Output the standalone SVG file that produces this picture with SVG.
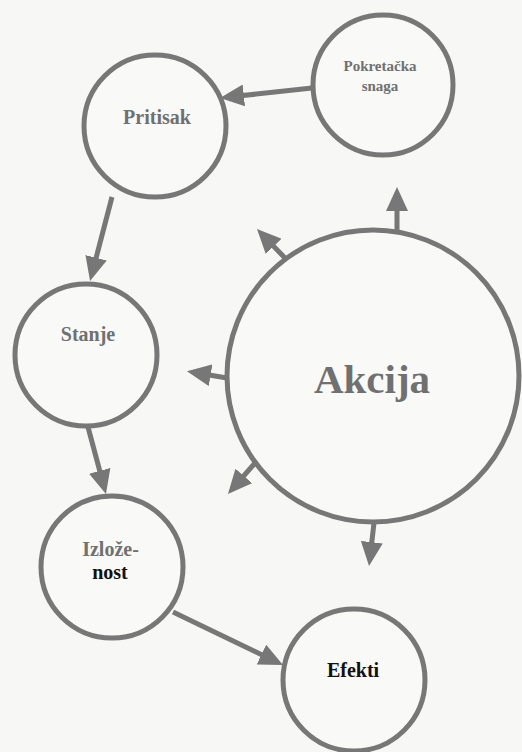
<svg xmlns="http://www.w3.org/2000/svg" width="522" height="752" viewBox="0 0 522 752">
<style>
.node{fill:#f9f9f8;stroke:#777;stroke-width:5}
.lbl{font-family:'Liberation Serif','DejaVu Serif',serif;font-weight:bold;fill:#707070;text-anchor:middle}
.dark{fill:#111}
.conn{stroke:#777;stroke-width:5;fill:none;marker-end:url(#ah)}
</style>
<defs>
<marker id="ah" viewBox="0 0 24 22" markerWidth="24" markerHeight="22" markerUnits="userSpaceOnUse" refX="6" refY="11" orient="auto">
<path d="M0,0 L24,11 L0,22 z" fill="#777"/>
</marker>
</defs>
<rect width="522" height="752" fill="#f7f7f6"/>
<g id="connectors">
<line class="conn" x1="312" y1="88" x2="237.9" y2="96.1"/>
<line class="conn" x1="112" y1="197" x2="94.6" y2="263.6"/>
<line class="conn" x1="88" y1="427" x2="101.3" y2="476.6"/>
<line class="conn" x1="173" y1="612" x2="266.8" y2="657.2"/>
<line class="conn" x1="397" y1="231" x2="397" y2="205"/>
<line class="conn" x1="285" y1="258" x2="269.5" y2="242"/>
<line class="conn" x1="227" y1="378" x2="204.7" y2="374.2"/>
<line class="conn" x1="255" y1="463" x2="239.8" y2="480.4"/>
<line class="conn" x1="374" y1="523" x2="371.1" y2="548.1"/>
</g>
<g id="pokretacka">
<circle class="node" cx="383" cy="85" r="70"/>
<text class="lbl" font-family="Liberation Serif, serif" x="380" y="71" font-size="15">Pokretačka</text>
<text class="lbl" font-family="Liberation Serif, serif" x="380" y="91" font-size="15">snaga</text>
</g>
<g id="pritisak">
<circle class="node" cx="155" cy="126" r="71"/>
<text class="lbl" font-family="Liberation Serif, serif" x="157" y="124" font-size="20">Pritisak</text>
</g>
<g id="stanje">
<circle class="node" cx="86" cy="355" r="71"/>
<text class="lbl" font-family="Liberation Serif, serif" x="88" y="341" font-size="20">Stanje</text>
</g>
<g id="akcija">
<circle class="node" cx="373" cy="376" r="146"/>
<text class="lbl" font-family="Liberation Serif, serif" x="372" y="393" font-size="41">Akcija</text>
</g>
<g id="izlozenost">
<circle class="node" cx="112" cy="567" r="71"/>
<text class="lbl" font-family="Liberation Serif, serif" x="110.5" y="556" font-size="20">Izlože-</text>
<text class="lbl dark" font-family="Liberation Serif, serif" x="110" y="579" font-size="20">nost</text>
</g>
<g id="efekti">
<circle class="node" cx="354" cy="680" r="71"/>
<text class="lbl dark" font-family="Liberation Serif, serif" x="353" y="677" font-size="20">Efekti</text>
</g>
</svg>
